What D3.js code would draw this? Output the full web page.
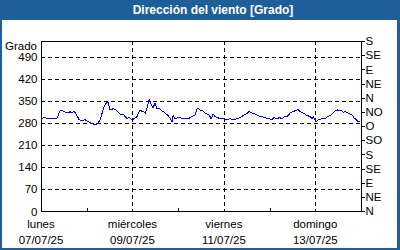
<!DOCTYPE html>
<html>
<head>
<meta charset="utf-8">
<script src="https://cdn.jsdelivr.net/npm/d3@7"></script>
<style>
  body { margin: 0; background: #fff; }
  svg { display: block; font-family: "Liberation Sans", Arial, sans-serif; }
  .tick text { font-size: 11.5px; fill: #000; }
</style>
</head>
<body>
<svg width="400" height="250"></svg>
<script>
// hours since 07/07/25 00:00 and wind direction in degrees
const hours = [0, 0.5, 1.6, 3.2, 4.7, 8.4, 10.0, 11.6, 12.6, 14.2, 15.2, 16.3, 17.3, 18.9, 20.0, 21.5,
  23.1, 24.7, 26.8, 28.4, 30.0, 31.0, 32.1, 33.1, 34.7, 35.2, 36.3, 37.3, 37.8, 39.9, 41.5, 43.1,
  44.1, 45.2, 46.2, 47.8, 49.4, 50.4, 52.0, 53.1, 53.6, 54.7, 55.7, 56.8, 58.3, 58.9, 59.9, 61.0,
  62.0, 63.6, 65.2, 66.7, 67.8, 68.8, 69.4, 70.4, 72.0, 74.1, 75.7, 77.2, 79.4, 80.9, 82.0, 83.6,
  85.1, 86.2, 87.2, 88.3, 89.3, 89.9, 90.4, 91.4, 92.5, 94.1, 95.6, 97.7, 99.3, 100.9, 103.0, 104.6,
  106.2, 108.3, 109.3, 110.9, 112.5, 114.0, 116.1, 117.7, 119.3, 121.4, 122.4, 124.0, 125.1, 126.6,
  127.7, 129.3, 130.8, 132.4, 134.5, 135.1, 136.1, 137.7, 139.8, 141.4, 142.4, 142.9, 144.5, 145.6,
  147.7, 149.2, 150.3, 151.9, 153.4, 154.5, 155.6, 156.1, 157.1, 158.7, 159.8, 161.3, 162.4, 163.4,
  164.5, 165.5, 166.6, 167.6];
const degrees = [293, 293, 299, 293, 295, 295, 318, 318, 314, 311, 316, 311, 318, 303, 290, 286,
  290, 284, 277, 274, 279, 290, 311, 332, 346, 346, 321, 321, 327, 318, 308, 308,
  300, 293, 297, 290, 295, 300, 321, 316, 318, 311, 327, 354, 332, 329, 343, 324,
  327, 318, 311, 303, 295, 284, 303, 293, 297, 295, 293, 293, 300, 305, 327, 321,
  318, 311, 308, 305, 293, 300, 308, 300, 297, 293, 293, 291, 293, 291, 293, 297,
  303, 311, 316, 311, 308, 303, 299, 297, 293, 291, 297, 293, 297, 293,
  300, 300, 311, 316, 321, 321, 316, 311, 303, 300, 293, 300, 284, 290,
  293, 293, 300, 303, 311, 318, 321, 318, 321, 314, 316, 311, 308, 305,
  295, 290, 284, 284];

const leftTicks = [0, 70, 140, 210, 280, 350, 420, 490];
const rightTicks = [0, 45, 90, 135, 180, 225, 270, 315, 360, 405, 450, 495, 540];
const rightLabels = ['N', 'NE', 'E', 'SE', 'S', 'SO', 'O', 'NO', 'N', 'NE', 'E', 'SE', 'S'];
const dayTicks = ['2025-07-07', '2025-07-09', '2025-07-11', '2025-07-13'];
const dayNames = ['lunes', 'miércoles', 'viernes', 'domingo'];
const dayDates = ['07/07/25', '09/07/25', '11/07/25', '13/07/25'];
const minorTicks = ['2025-07-08', '2025-07-10', '2025-07-12'];

const svg = d3.select('svg');
const W = 400, H = 250;
const margin = { top: 41, right: 39, bottom: 39, left: 41 };
const start = new Date(2025, 6, 7);
const parse = s => { const [y, m, d] = s.split('-').map(Number); return new Date(y, m - 1, d); };

// frame
svg.append('rect').attr('width', W).attr('height', H).attr('fill', '#1f5f99');
svg.append('rect').attr('x', 2).attr('y', 20).attr('width', W - 5).attr('height', H - 22).attr('fill', '#fff');
svg.append('text')
  .attr('x', 213).attr('y', 14)
  .attr('text-anchor', 'middle')
  .attr('fill', '#fff')
  .style('font-weight', 'bold').style('font-size', '12px')
  .text('Dirección del viento [Grado]');

const x = d3.scaleTime()
  .domain([start, d3.timeDay.offset(start, 7)])
  .range([margin.left, W - margin.right]);
const y = d3.scaleLinear()
  .domain([0, 540])
  .range([H - margin.bottom, margin.top]);

const x0 = margin.left, x1 = W - margin.right, y0 = H - margin.bottom, y1 = margin.top;

// grid
const grid = svg.append('g').attr('stroke', '#000').attr('stroke-dasharray', '4,3').attr('shape-rendering', 'crispEdges');
grid.selectAll('.hg').data(leftTicks.filter(d => d > 0)).join('line')
  .attr('x1', x0).attr('x2', x1)
  .attr('y1', d => Math.round(y(d)) + 0.5).attr('y2', d => Math.round(y(d)) + 0.5);
grid.selectAll('.vg').data(dayTicks.slice(1)).join('line')
  .attr('x1', d => Math.round(x(parse(d))) + 0.5).attr('x2', d => Math.round(x(parse(d))) + 0.5)
  .attr('y1', y1).attr('y2', y0);

// minor day ticks on bottom
svg.append('g').selectAll('line').data(minorTicks).join('line')
  .attr('stroke', '#000').attr('shape-rendering', 'crispEdges')
  .attr('x1', d => Math.round(x(parse(d))) + 0.5).attr('x2', d => Math.round(x(parse(d))) + 0.5)
  .attr('y1', y0 - 3).attr('y2', y0);

// line
const line = d3.line()
  .x((d, i) => x(d3.timeMinute.offset(start, Math.round(hours[i] * 60))))
  .y(d => y(d));
svg.append('path')
  .datum(degrees)
  .attr('fill', 'none')
  .attr('stroke', '#0000ff')
  .attr('stroke-width', 1)
  .attr('shape-rendering', 'crispEdges')
  .attr('d', line);

// plot box
svg.append('rect')
  .attr('x', x0 + 0.5).attr('y', y1 + 0.5)
  .attr('width', x1 - x0).attr('height', y0 - y1)
  .attr('fill', 'none').attr('stroke', '#000').attr('shape-rendering', 'crispEdges');

// left axis
const left = svg.append('g')
  .attr('transform', `translate(${x0 + 0.5},0)`)
  .call(d3.axisLeft(y).tickValues(leftTicks).tickSize(0).tickPadding(4));
left.select('.domain').remove();
left.selectAll('.tick text').style('font-family', null).attr('dy', '0.35em');

svg.append('text')
  .attr('x', 37).attr('y', 50)
  .attr('text-anchor', 'end')
  .style('font-size', '11.5px')
  .text('Grado');

// right axis
const right = svg.append('g')
  .attr('transform', `translate(${x1 + 0.5},0)`)
  .call(d3.axisRight(y).tickValues(rightTicks).tickSize(3).tickPadding(1)
    .tickFormat((d, i) => rightLabels[i]));
right.select('.domain').remove();
right.selectAll('.tick line').attr('shape-rendering', 'crispEdges');

// bottom labels
const bottom = svg.append('g').selectAll('g').data(dayTicks).join('g')
  .attr('transform', d => `translate(${x(parse(d))},0)`)
  .style('font-size', '11.5px')
  .attr('text-anchor', 'middle');
bottom.append('text').attr('y', 228).text((d, i) => dayNames[i]);
bottom.append('text').attr('y', 244).text((d, i) => dayDates[i]);
</script>
</body>
</html>
